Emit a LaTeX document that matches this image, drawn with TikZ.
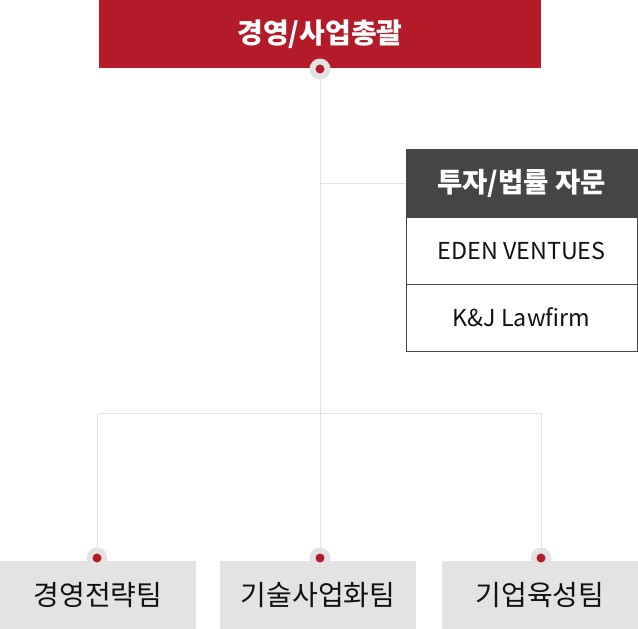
\documentclass[tikz,border=0pt]{standalone}
\usepackage{fontspec}
\setmainfont{Noto Sans CJK KR}
\definecolor{brand}{HTML}{B31B29}
\definecolor{dark}{HTML}{454545}
\definecolor{pale}{HTML}{E3E3E3}
\definecolor{linec}{HTML}{E2E2E2}
\definecolor{ink}{HTML}{111111}
\begin{document}
\begin{tikzpicture}[x=1pt,y=-1pt,
  box/.style={rectangle, anchor=north west, inner sep=0pt, outer sep=0pt},
  topbox/.style={box, fill=brand, text=white, font=\fontsize{28}{28}\selectfont\bfseries, minimum width=442pt, minimum height=68pt},
  headbox/.style={box, fill=dark, draw=dark, line width=1pt, text=white, font=\fontsize{27.5}{28}\selectfont\bfseries, minimum width=231pt, minimum height=68pt},
  rowbox/.style={box, fill=white, draw=dark, line width=1pt, text=ink, font=\fontsize{23.3}{24}\selectfont, minimum width=231pt, minimum height=67pt},
  teambox/.style={box, fill=pale, text=ink, font=\fontsize{28}{28}\selectfont, minimum width=196pt, minimum height=68pt},
  conn/.style={draw=linec, line width=1pt},
  ring/.style={circle, fill=pale, minimum size=21pt, inner sep=0pt},
  pip/.style={circle, fill=brand, minimum size=9pt, inner sep=0pt}
]
\useasboundingbox (0,0) rectangle (638,629);
\node[topbox] (top) at (99,0) {경영/사업총괄};
% connectors
\coordinate (j) at (320,413);
\coordinate (jl) at (97,413);
\coordinate (jr) at (541,413);
\coordinate (dt) at (320,69);
\coordinate (dl) at (97,558);
\coordinate (dm) at (320,558);
\coordinate (dr) at (541,558);
\node[headbox] (adv) at (406,149) {투자/법률 자문};
\node[rowbox] (eden) at (406,217) {EDEN VENTUES};
\node[rowbox] (kj) at (406,284) {K\&J Lawfirm};
\draw[conn] (dt) -- (dm);
\draw[conn] (adv.west) -- (adv.west -| dt);
\draw[conn] (jl) -- (jr);
\draw[conn] (jl) -- (dl);
\draw[conn] (jr) -- (dr);
\node[teambox] (b1) at (0,561) {경영전략팀};
\node[teambox] (b2) at (220,561) {기술사업화팀};
\node[teambox] (b3) at (442,561) {기업육성팀};
\foreach \p in {dt,dl,dm,dr}{
  \node[ring] at (\p) {};
  \node[pip] at (\p) {};
}
\end{tikzpicture}
\end{document}
